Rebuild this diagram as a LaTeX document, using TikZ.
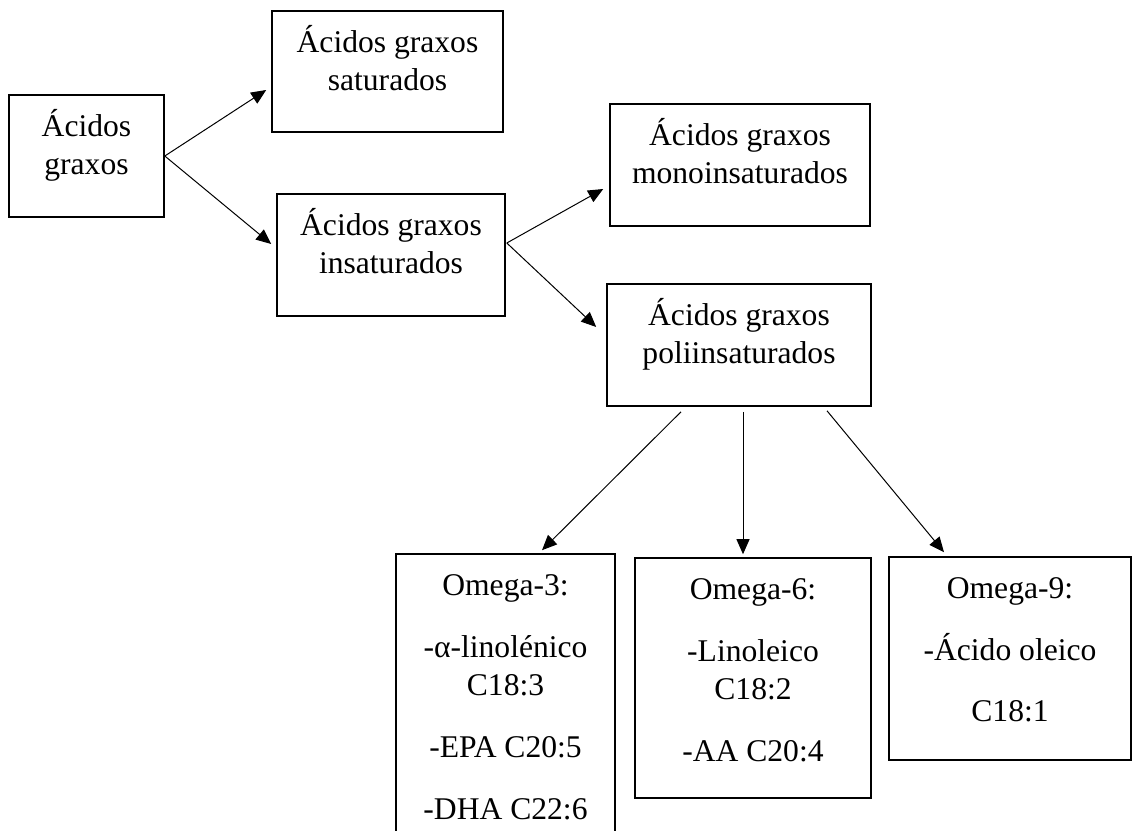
\documentclass[tikz,border=0pt]{standalone}
\usepackage{fontspec}
\setmainfont{Liberation Serif}
\usetikzlibrary{arrows.meta,calc}
\newcommand\bxt[3]{\parbox[c][#2][t]{#1}{\centering\rule{0pt}{41pt}#3}}
\begin{document}
\begin{tikzpicture}[x=1pt,y=-1pt,
  box/.style={draw, line width=1.6pt, inner sep=0pt, font=\fontsize{31.6}{38}\selectfont},
  arr/.style={line width=1pt, -{Triangle[length=15pt,width=13pt]}}]
\useasboundingbox (0,0) rectangle (1134,830);
\fill[white] (0,0) rectangle (1134,830);
\clip (0,0) rectangle (1134,830);
% boxes
\node[box] (A) at (86.5,156) {\bxt{155pt}{122pt}{Ácidos\\graxos}};
\node[box] (B) at (387.5,71.5) {\bxt{231pt}{121pt}{Ácidos graxos\\saturados}};
\node[box] (C) at (391,255) {\bxt{228pt}{122pt}{Ácidos graxos\\insaturados}};
\node[box] (D) at (740,165) {\bxt{260pt}{122pt}{Ácidos graxos\\monoinsaturados}};
\node[box] (E) at (739,345) {\bxt{264pt}{122pt}{Ácidos graxos\\poliinsaturados}};
\node[box] (F) at (505.5,712) {\bxt{219pt}{316pt}{Omega-3:\\[24pt]-α-linolénico\\C18:3\\[24pt]-EPA C20:5\\[24pt]-DHA C22:6}};
\node[box] (G) at (753,678) {\bxt{236pt}{240pt}{Omega-6:\\[24pt]-Linoleico\\C18:2\\[24pt]-AA C20:4}};
\node[box] (H) at (1010,658.5) {\bxt{242pt}{203pt}{Omega-9:\\[24pt]-Ácido oleico\\[23pt]C18:1}};
% connectors
\draw[arr] (A.east) -- ($(B.west)+(-5,18.5)$);
\draw[arr] (A.east) -- ($(C.west)+(-5,-11)$);
\draw[arr] ($(C.east)+(1,-12)$) -- ($(D.west)+(-6,24)$);
\draw[arr] ($(C.east)+(1,-12)$) -- ($(E.west)+(-10,-18)$);
\draw[arr] ($(E.south)+(-58,5)$) -- ($(F.north)+(36.5,-3)$);
\draw[arr] ($(E.south)+(4,5)$) -- ($(G.north)+(-10,-3)$);
\draw[arr] ($(E.south)+(88,4)$) -- ($(H.north)+(-66,-4)$);
\end{tikzpicture}
\end{document}
